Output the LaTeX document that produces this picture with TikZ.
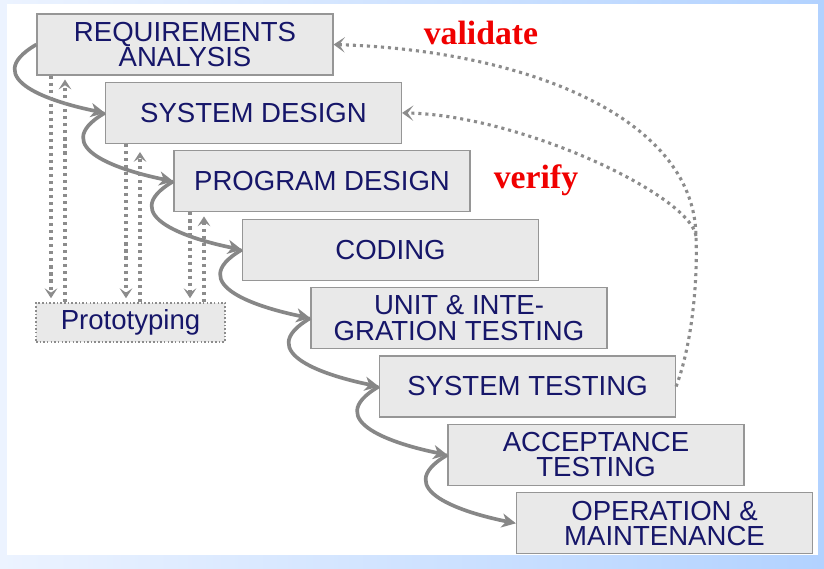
\documentclass[tikz,border=0pt]{standalone}
\usepackage{fontspec}
\setmainfont{Liberation Sans}
\newfontfamily\labelfont{Liberation Serif}
\usetikzlibrary{arrows.meta}
\definecolor{boxtext}{RGB}{22,22,105}
\definecolor{boxfill}{RGB}{233,233,233}
\definecolor{boxline}{RGB}{150,150,150}
\definecolor{flowgray}{RGB}{135,135,135}
\definecolor{dotgray}{RGB}{140,140,140}
\definecolor{tagred}{RGB}{240,0,0}
\newcommand\phasefont{\fontsize{19.6}{17.8}\selectfont}
\newcommand\tagfont{\labelfont\bfseries\fontsize{24}{24}\selectfont}

\begin{document}
\begin{tikzpicture}[x=0.025cm,y=-0.025cm,
  phase/.style={draw=boxline,fill=boxfill,line width=0.8pt,minimum width=7.4cm,
    minimum height=1.525cm,inner sep=0pt,align=center,text=boxtext,font=\phasefont},
  proto/.style={draw=dotgray,fill=boxfill,line width=1.1pt,dash pattern=on 1.1pt off 1.5pt,
    minimum width=4.725cm,minimum height=0.975cm,inner sep=0pt,text=boxtext,font=\phasefont},
  flow/.style={draw=flowgray,line width=2.6pt,-{Stealth[length=10pt,width=10pt,inset=3pt]}},
  feedback/.style={draw=dotgray,line width=2.2pt,dash pattern=on 2.2pt off 2.8pt,
    -{Stealth[length=7pt,width=9pt,inset=3pt]}},
  tag/.style={text=tagred,font=\tagfont,inner sep=0pt}]
\useasboundingbox (0,0) rectangle (824,568);
\shade[left color={rgb,255:red,236;green,243;blue,255},right color={rgb,255:red,178;green,210;blue,255}]
  (0,0) rectangle (824,568);
\fill[white] (7,4) rectangle (818,555);
%
\node[phase] (req) at (185,44.5) {REQUIREMENTS\\ANALYSIS};
\node[phase] (sysd) at (253.5,112.9) {SYSTEM DESIGN};
\node[phase] (progd) at (322,181.3) {PROGRAM DESIGN};
\node[phase] (code) at (390.5,249.7) {CODING};
\node[phase] (unit) at (459,318.1) {UNIT \& INTE-\\GRATION TESTING};
\node[phase] (syst) at (527.5,386.5) {SYSTEM TESTING};
\node[phase] (accept) at (596,454.9) {ACCEPTANCE\\TESTING};
\node[phase] (oper) at (664.5,523.3) {OPERATION \&\\MAINTENANCE};
\node[proto] (proto) at (130.5,322.5) {Prototyping};
%
\draw[flow] (req.west) .. controls +(-60,35) and +(-50,-10) .. (sysd.west);
\draw[flow] (sysd.west) .. controls +(-60,35) and +(-50,-10) .. (progd.west);
\draw[flow] (progd.west) .. controls +(-60,35) and +(-50,-10) .. (code.west);
\draw[flow] (code.west) .. controls +(-60,35) and +(-50,-10) .. (unit.west);
\draw[flow] (unit.west) .. controls +(-60,35) and +(-50,-10) .. (syst.west);
\draw[flow] (syst.west) .. controls +(-60,35) and +(-50,-10) .. (accept.west);
\draw[flow] (accept.west) .. controls +(-60,35) and +(-50,-10) .. (oper.west);
%
\coordinate (d1) at (51,0);
\coordinate (u1) at (65,0);
\coordinate (d2) at (126,0);
\coordinate (u2) at (140,0);
\coordinate (d3) at (190,0);
\coordinate (u3) at (204,0);
\draw[feedback,shorten >=1mm] (req.south -| d1) -- (proto.north -| d1);
\draw[feedback,shorten >=1mm] (proto.north -| u1) -- (req.south -| u1);
\draw[feedback,shorten >=1mm] (sysd.south -| d2) -- (proto.north -| d2);
\draw[feedback,shorten >=2mm] (proto.north -| u2) -- (sysd.south -| u2);
\draw[feedback,shorten >=1mm] (progd.south -| d3) -- (proto.north -| d3);
\draw[feedback,shorten >=1mm] (proto.north -| u3) -- (progd.south -| u3);
%
\coordinate (join) at (696,236);
\draw[feedback,-{Stealth[length=8pt,width=11pt,inset=4pt]}] (syst.east)
  .. controls (690,350) and (698,290) .. (join)
  .. controls (694,115) and (520,50) .. (req.east);
\draw[feedback,-{Stealth[length=8pt,width=11pt,inset=4pt]}] (join)
  .. controls (690,195) and (520,115) .. (sysd.east);
%
\node[tag] (valid) at (481,33) {validate};
\node[tag] (verif) at (536,180) {verify};
\end{tikzpicture}
\end{document}
